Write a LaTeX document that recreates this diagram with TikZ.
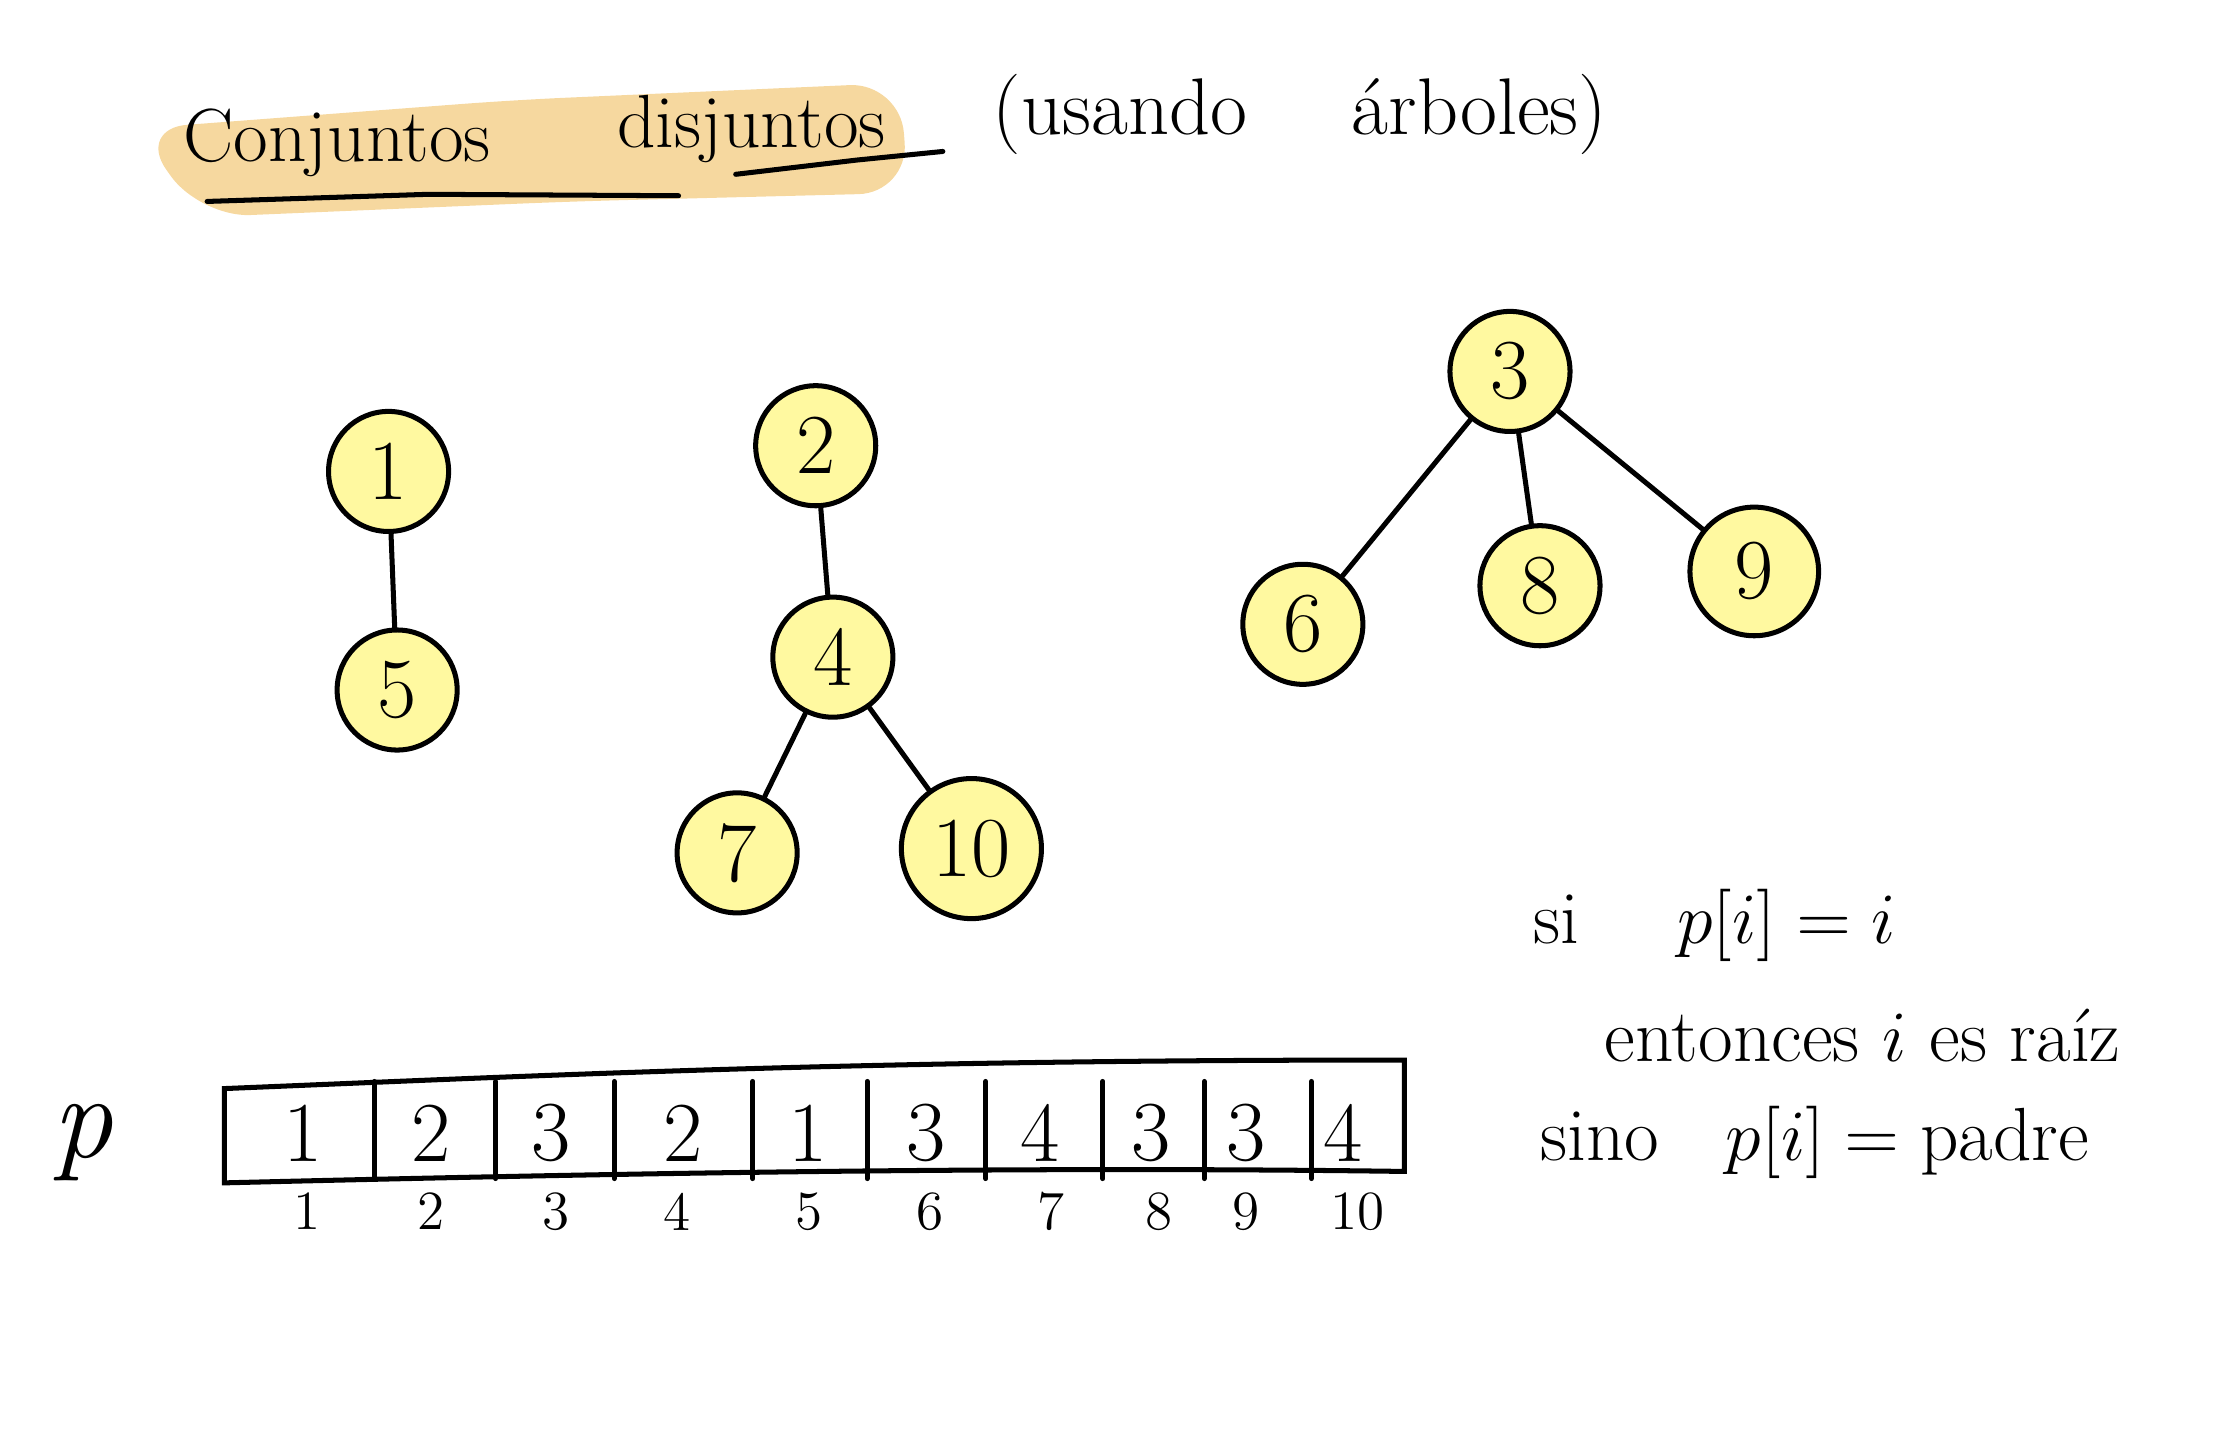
\documentclass[tikz,border=0pt]{standalone}
\usepackage{amsmath}
\usepackage{tikz}
\usetikzlibrary{positioning}
\usetikzlibrary{automata}
\definecolor{nodeyellow}{HTML}{FFF9A0}
\definecolor{marker}{HTML}{F6D89F}

\begin{document}
\begin{tikzpicture}[
            x = 0.01cm, y = -0.01cm, % pixel-like units
            line width = 1pt,
            line cap = round,
            node distance = 1.5cm
        ]

        \tikzstyle{every state}=[
            draw = black,
            line width = 1pt,
            fill = nodeyellow,
            minimum size = 8.4mm,
            inner sep = 0pt,
            font = \fontsize{17}{20}\selectfont
        ]
        \tikzstyle{cellval}=[font = \fontsize{17}{20}\selectfont, inner sep = 0pt]
        \tikzstyle{idx}=[font = \fontsize{11}{13}\selectfont, inner sep = 0pt]
        \tikzstyle{note}=[font = \fontsize{15}{18}\selectfont, inner sep = 1pt, anchor = west]
        \tikzstyle{heading}=[font = \fontsize{15}{18}\selectfont, inner sep = 1pt]

        \useasboundingbox (0,0) rectangle (1568,1005);

        % title
        \fill[marker, rounded corners=10pt] (96,90) -- (360,70) -- (630,58) -- (636,135) -- (400,141) -- (140,152) -- cycle;
        \node[heading] (t1) at (236,100) {Conjuntos};
        \node[heading] (t2) at (526,90) {disjuntos};
        \node[heading, font=\fontsize{16}{19}\selectfont] (t3) at (910,80) {(usando \quad árboles)};
        \draw (145,141) -- (300,136) -- (475,137);
        \draw (515,122) -- (600,112) -- (660,106);

        % trees
        \node[state] (n1) at (272,330) {1};
        \node[state] (n5) at (278,483) {5};
        \path (n1) edge (n5);

        \node[state] (n2) at (571,312) {2};
        \node[state] (n4) at (583,460) {4};
        \node[state] (n7) at (516,597) {7};
        \node[state, minimum size=9.8mm] (n10) at (680,594) {10};
        \path (n2) edge (n4);
        \path (n4) edge (n7);
        \path (n4) edge (n10);

        \node[state] (n3) at (1057,260) {3};
        \node[state] (n6) at (912,437) {6};
        \node[state] (n8) at (1078,410) {8};
        \node[state, minimum size=9mm] (n9) at (1228,400) {9};
        \path (n3) edge (n6);
        \path (n3) edge (n8);
        \path (n3) edge (n9);

        % array p
        \node[font=\fontsize{24}{28}\selectfont\itshape] (p) at (58,800) {p};
        \draw (157,762) .. controls (400,752) and (600,742) .. (983,742) -- (983,820)
              .. controls (700,816) and (400,822) .. (157,828) -- cycle;
        \foreach \x in {262,347,430,527,607,690,772,843,918}
            \draw (\x,757) -- (\x,825);
        \foreach \x/\v [count=\i] in {212/1,302/2,386/3,478/2,566/1,648/3,728/4,806/3,872/3,940/4}
            \node[cellval] (c\i) at (\x,793) {\v};
        \foreach \x [count=\i] in {215,302,389,474,566,651,736,811,872,950}
            \node[idx] (i\i) at (\x,848) {\i};

        % rule
        \node[note] (r1) at (1068,648) {si \quad $p[i] = i$};
        \node[note] (r2) at (1118,725) {entonces $i$ es raíz};
        \node[note] (r3) at (1073,800) {sino \; $p[i]=\text{padre}$};

\end{tikzpicture}
\end{document}
